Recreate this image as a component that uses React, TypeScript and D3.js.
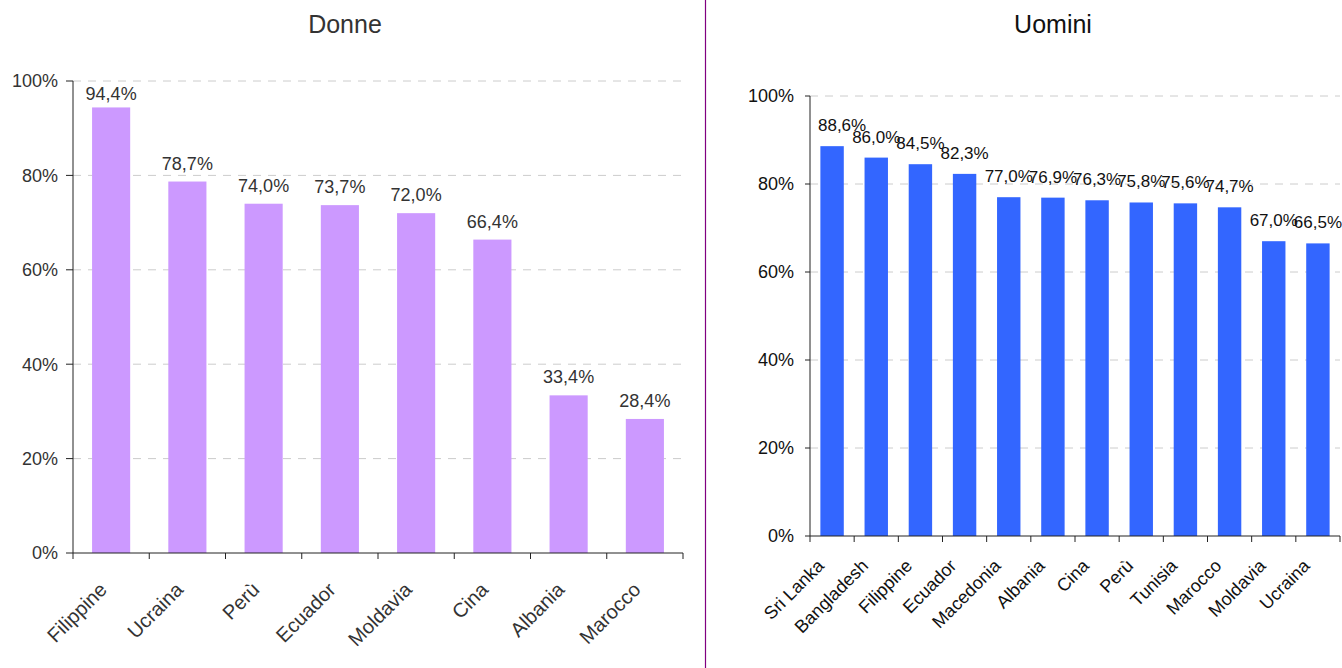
import React from 'react';
import * as d3 from 'd3';

const donneCats = ['Filippine', 'Ucraina', 'Perù', 'Ecuador', 'Moldavia', 'Cina', 'Albania', 'Marocco'];
const donneVals = [94.4, 78.7, 74.0, 73.7, 72.0, 66.4, 33.4, 28.4];
const uominiCats = ['Sri Lanka', 'Bangladesh', 'Filippine', 'Ecuador', 'Macedonia', 'Albania', 'Cina', 'Perù', 'Tunisia', 'Marocco', 'Moldavia', 'Ucraina'];
const uominiVals = [88.6, 86.0, 84.5, 82.3, 77.0, 76.9, 76.3, 75.8, 75.6, 74.7, 67.0, 66.5];
const yTicks = [0, 20, 40, 60, 80, 100];

const fmt = (v: number) => v.toFixed(1).replace('.', ',') + '%';

type PanelProps = {
  title: string;
  titleX: number;
  cats: string[];
  vals: number[];
  x0: number; x1: number; yTop: number; yBottom: number;
  color: string;
  padding: number;
  labelFont: number;
  labelGap: number;
  labelMinBase: number;
  tickFont: number;
  tickGap: number;
  tickLen: number;
  catFont: number;
  catDx: number;
  catDy: number;
  textColor: string;
  fontFamily: string;
};

function Panel(p: PanelProps) {
  const x = d3.scaleBand<string>().domain(p.cats).range([p.x0, p.x1]).paddingInner(p.padding).paddingOuter(p.padding / 2);
  const xb = d3.scaleBand<string>().domain(p.cats).range([p.x0, p.x1]);
  const y = d3.scaleLinear().domain([0, 100]).range([p.yBottom, p.yTop]);
  const bounds = [...p.cats.map(c => xb(c) as number), p.x1];
  return (
    <g fontFamily={p.fontFamily}>
      <text x={p.titleX} y={33} textAnchor="middle" fontSize={25} fill={p.textColor}>{p.title}</text>
      {yTicks.filter(t => t > 0).map(t => (
        <line key={'g' + t} x1={p.x0} x2={p.x1} y1={y(t)} y2={y(t)} stroke="#cccccc" strokeWidth={1} strokeDasharray="8,7" />
      ))}
      {p.cats.map((c, i) => (
        <rect key={'b' + c} x={x(c)} y={y(p.vals[i])} width={x.bandwidth()} height={y(0) - y(p.vals[i])} fill={p.color} />
      ))}
      {p.cats.map((c, i) => {
        const w = p.labelFont * 2.835;
        const cx = Math.max((x(c) as number) + x.bandwidth() / 2, p.x0 + 8 + w / 2);
        const by = Math.max(y(p.vals[i]) - p.labelGap, p.yTop + p.labelMinBase);
        return (
          <text key={'l' + c} x={cx} y={by} textAnchor="middle" fontSize={p.labelFont} fill={p.textColor}>{fmt(p.vals[i])}</text>
        );
      })}
      <line x1={p.x0} x2={p.x0} y1={p.yTop} y2={p.yBottom} stroke="#222" strokeWidth={1} />
      <line x1={p.x0} x2={p.x1} y1={p.yBottom} y2={p.yBottom} stroke="#222" strokeWidth={1} />
      {yTicks.map(t => (
        <g key={'t' + t}>
          <line x1={p.x0 - p.tickLen} x2={p.x0} y1={y(t)} y2={y(t)} stroke="#222" strokeWidth={1} />
          <text x={p.x0 - p.tickGap} y={y(t)} dy="0.36em" textAnchor="end" fontSize={p.tickFont} fill={p.textColor}>{t + '%'}</text>
        </g>
      ))}
      {bounds.map((b, i) => (
        <line key={'xt' + i} x1={b} x2={b} y1={p.yBottom} y2={p.yBottom + 6} stroke="#222" strokeWidth={1} />
      ))}
      {p.cats.map(c => {
        const cx = (xb(c) as number) + xb.bandwidth() / 2 + p.catDx;
        const cy = p.yBottom + p.catDy;
        return (
          <text key={'c' + c} transform={`translate(${cx},${cy}) rotate(-45)`} textAnchor="end" fontSize={p.catFont} fill={p.textColor}>{c}</text>
        );
      })}
    </g>
  );
}

export default function App() {
  return (
    <svg width={1342} height={668} style={{ position: 'absolute', left: 0, top: 0, background: '#fff' }}>
      <rect x={0} y={0} width={1342} height={668} fill="#fff" />
      <Panel title="Donne" titleX={345} cats={donneCats} vals={donneVals}
        x0={73} x1={683} yTop={81} yBottom={553} color="#CC99FF" padding={0.5}
        labelFont={18} labelGap={12} labelMinBase={19} tickFont={18} tickGap={15} tickLen={7}
        catFont={20} catDx={-3} catDy={38} textColor="#333" fontFamily="'Liberation Sans', Arial, sans-serif" />
      <line x1={705.5} x2={705.5} y1={0} y2={668} stroke="#800080" strokeWidth={1.2} />
      <Panel title="Uomini" titleX={1053} cats={uominiCats} vals={uominiVals}
        x0={810} x1={1340} yTop={96} yBottom={536} color="#3366FF" padding={0.47}
        labelFont={17} labelGap={15} labelMinBase={19} tickFont={18} tickGap={16} tickLen={5}
        catFont={18} catDx={-7} catDy={31} textColor="#111" fontFamily="'Liberation Sans', Arial, sans-serif" />
    </svg>
  );
}
